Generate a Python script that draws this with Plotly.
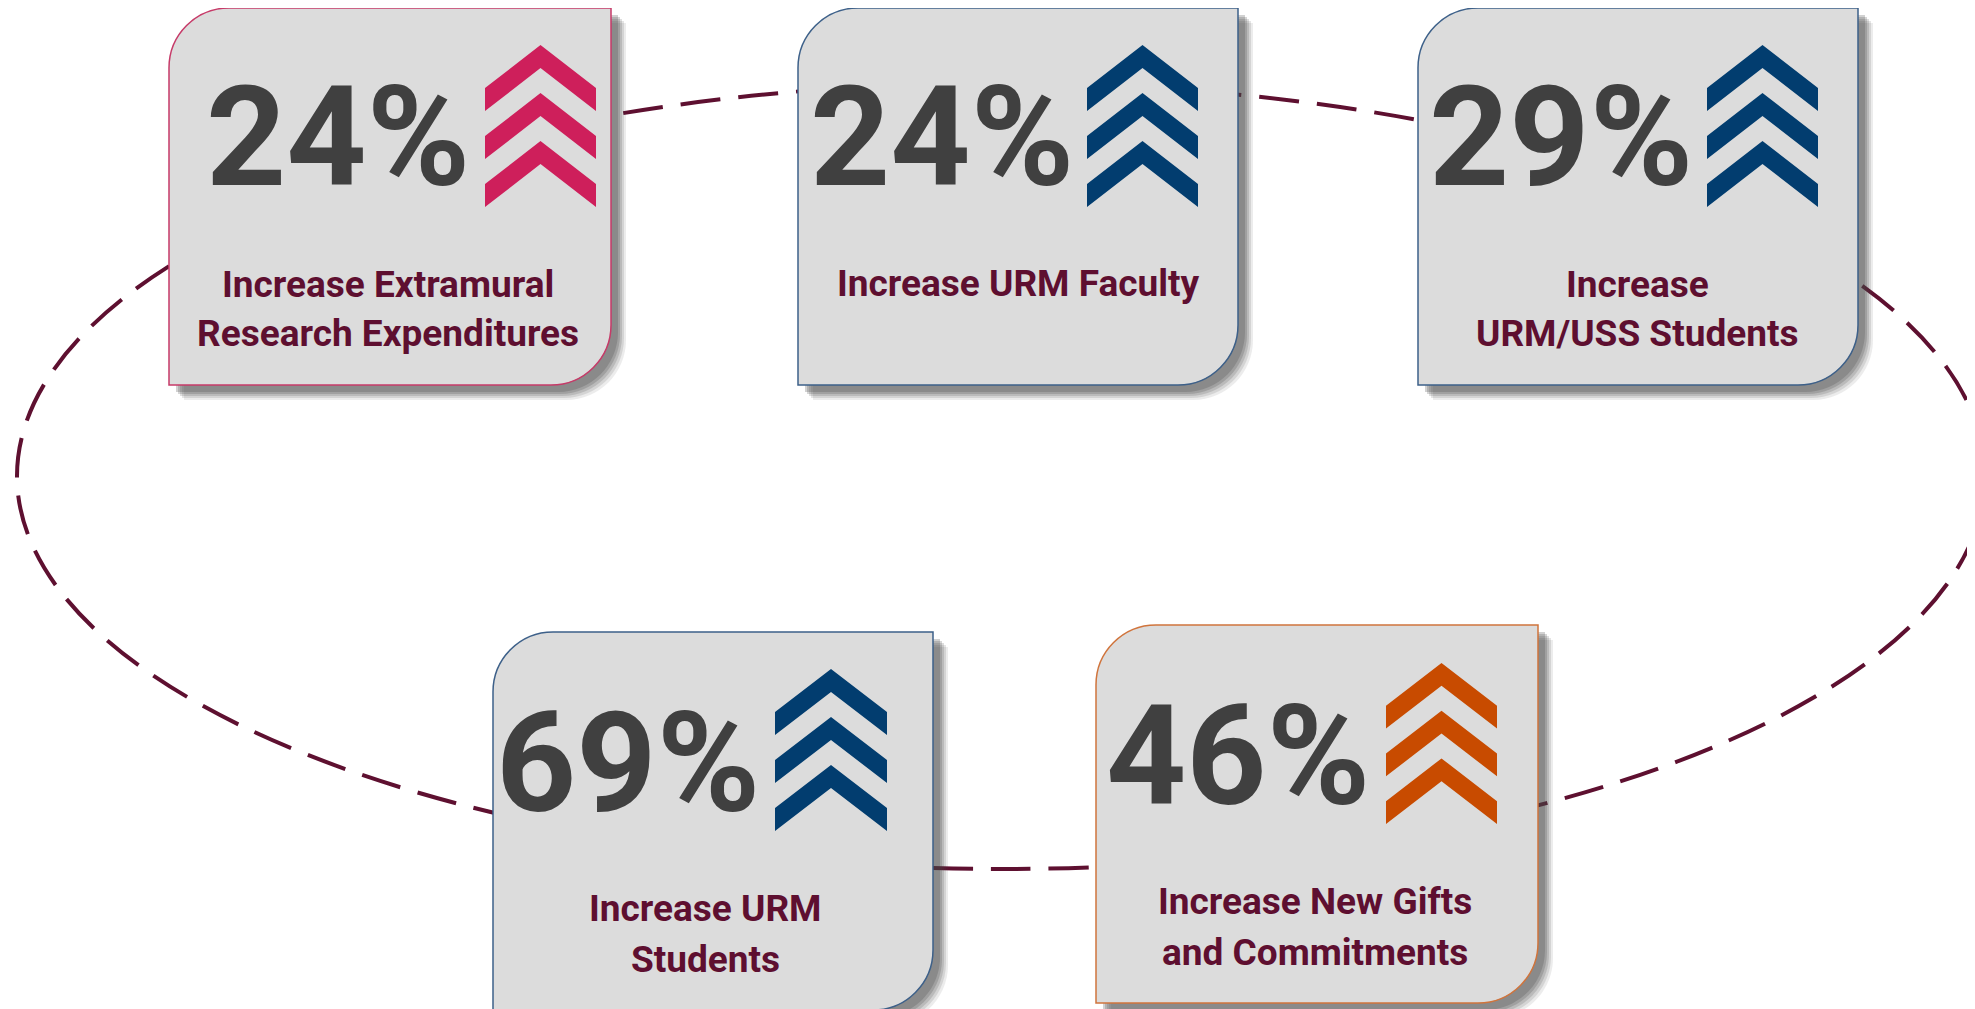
import plotly.graph_objects as go

# ---- data ----
pct_values = [24, 24, 29, 69, 46]
label_lines = [
    ["Increase Extramural", "Research Expenditures"],
    ["Increase URM Faculty"],
    ["Increase", "URM/USS Students"],
    ["Increase URM", "Students"],
    ["Increase New Gifts", "and Commitments"],
]

# ---- layout (pixel coordinates of the page, y down) ----
W, H = 1975, 1009
PAGE_MARGIN = 8  # default body margin of the html page
cards = [(169, 8, 611, 385), (798, 8, 1238, 385), (1418, 8, 1858, 385),
         (493, 632, 933, 1010), (1096, 625, 1538, 1003)]
num_pos = [(338, 137), (942, 137), (1561, 137), (628, 763), (1238, 756)]
chev_box = [(485, 45, 596, 207), (1087, 45, 1198, 207), (1707, 45, 1818, 207),
            (775, 669, 887, 831), (1386, 663, 1497, 824)]
label_pos = [[(388, 284), (388, 333)], [(1018, 283)], [(1637, 284), (1637, 333)],
             [(705, 908), (705, 959)], [(1315, 901), (1315, 952)]]
ellipse_box = (17, 83, 1985, 869)
chev_colors = ["#CE1F5B", "#023D6F", "#023D6F", "#023D6F", "#C84B00"]
border_colors = ["#C63A68", "#3D6089", "#3D6089", "#3D6089", "#D0743C"]
CARD_FILL = "#DCDCDC"
NUM_COLOR = "#404040"
LABEL_COLOR = "#5E0F30"
LINE_COLOR = "#5E1030"
FONT = "Roboto, Liberation Sans, Arial, sans-serif"

K = 0.5523


def rrect(x0, y0, x1, y1, r):
    return (f"M {x0},{y0 + r} C {x0},{y0 + r * (1 - K)} {x0 + r * (1 - K)},{y0} {x0 + r},{y0} "
            f"L {x1},{y0} L {x1},{y1 - r} "
            f"C {x1},{y1 - r * (1 - K)} {x1 - r * (1 - K)},{y1} {x1 - r},{y1} "
            f"L {x0},{y1} Z")


def chevrons(x0, y0, x1, y1):
    h = y1 - y0
    d = h * 43 / 162
    t = h * 23 / 162
    p = h * 48 / 162
    cx = (x0 + x1) / 2
    paths = []
    for i in range(3):
        a = y0 + i * p
        paths.append(f"M {cx},{a} L {x1},{a + d} L {x1},{a + d + t} L {cx},{a + t} "
                     f"L {x0},{a + d + t} L {x0},{a + d} Z")
    return paths


shapes = []
# dashed ellipse behind cards
ex0, ey0, ex1, ey1 = ellipse_box
shapes.append(dict(type="circle", xref="x", yref="y", x0=ex0, x1=ex1, y0=ey0, y1=ey1,
                   line=dict(color=LINE_COLOR, width=4, dash="40px,18px"),
                   fillcolor="rgba(0,0,0,0)", layer="above"))

for i, (x0, y0, x1, y1) in enumerate(cards):
    # soft shadow
    for off, op in [(15, 0.10), (13, 0.14), (11, 0.18), (9, 0.22), (7, 0.25)]:
        shapes.append(dict(type="path", xref="x", yref="y",
                           path=rrect(x0 + off, y0 + off, x1 + off, y1 + off, 60),
                           fillcolor=f"rgba(70,70,70,{op})", line=dict(width=0), layer="above"))
    shapes.append(dict(type="path", xref="x", yref="y", path=rrect(x0, y0, x1, y1, 60),
                       fillcolor=CARD_FILL, line=dict(color=border_colors[i], width=1.5),
                       layer="above"))
    for p in chevrons(*chev_box[i]):
        shapes.append(dict(type="path", xref="x", yref="y", path=p,
                           fillcolor=chev_colors[i], line=dict(width=0), layer="above"))

annotations = []
for i, v in enumerate(pct_values):
    nx, ny = num_pos[i]
    annotations.append(dict(x=nx, y=ny, xref="x", yref="y", text=f"{v}%", showarrow=False,
                            xanchor="center", yanchor="middle",
                            font=dict(family=FONT, size=140, color=NUM_COLOR, weight=700)))
    for line, (lx, ly) in zip(label_lines[i], label_pos[i]):
        annotations.append(dict(x=lx, y=ly, xref="x", yref="y", text=line, showarrow=False,
                                xanchor="center", yanchor="middle",
                                font=dict(family=FONT, size=37, color=LABEL_COLOR, weight=700)))

fig = go.Figure()
fig.add_trace(go.Scatter(x=[], y=[], showlegend=False))
fig.update_layout(
    width=W - PAGE_MARGIN, height=H - PAGE_MARGIN, margin=dict(l=0, r=0, t=0, b=0),
    paper_bgcolor="white", plot_bgcolor="white",
    xaxis=dict(range=[PAGE_MARGIN, W], visible=False, fixedrange=True),
    yaxis=dict(range=[H, PAGE_MARGIN], visible=False, fixedrange=True),
    shapes=shapes, annotations=annotations, showlegend=False,
)
fig.write_html("out.html", config={"displayModeBar": False})
